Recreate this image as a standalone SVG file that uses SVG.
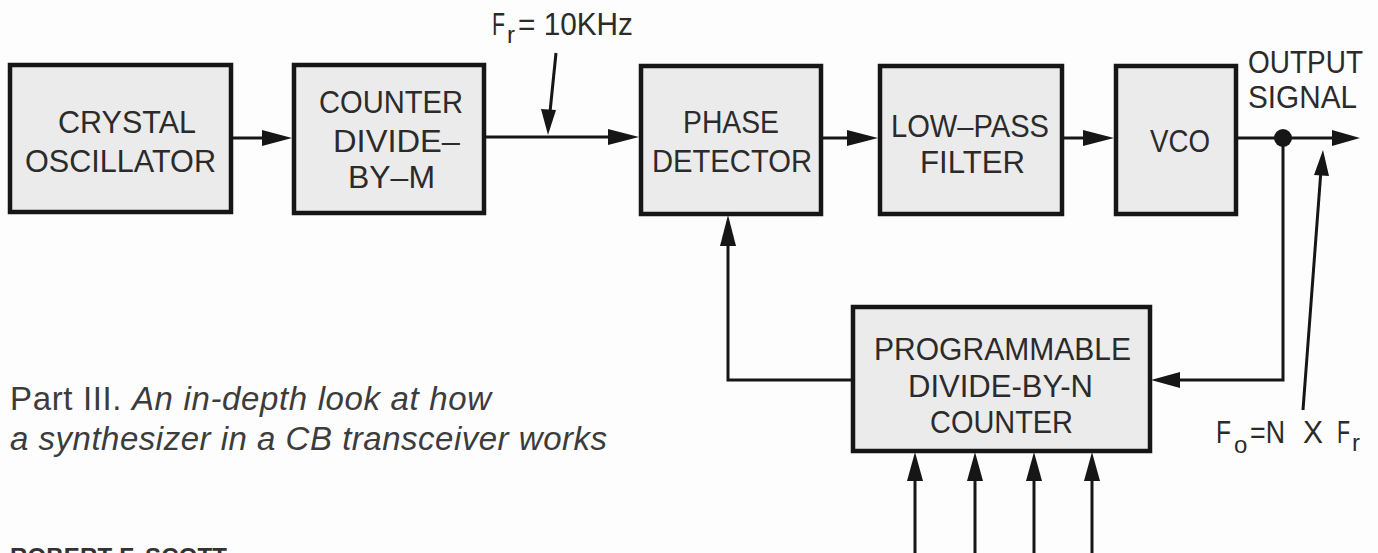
<svg xmlns="http://www.w3.org/2000/svg" width="1378" height="553" viewBox="0 0 1378 553">
<style>
.box{fill:#ebebeb;stroke:#161616;stroke-width:4.5}
.lbl{font-family:"Liberation Sans",Arial,sans-serif;font-size:32px;fill:#2b2b2b}
.sb{font-size:24px}
.cap{font-family:"Liberation Sans",Arial,sans-serif;font-size:33px;fill:#3c3c3c}
.wire{fill:none;stroke:#161616;stroke-width:3}
.head{fill:#161616}
</style>
<rect width="1378" height="553" fill="#fdfdfd"/>

<g id="crystal">
<rect class="box" x="10" y="65" width="221" height="147"/>
<text class="lbl" x="58" y="133" textLength="138" lengthAdjust="spacingAndGlyphs">CRYSTAL</text>
<text class="lbl" x="25" y="172" textLength="191" lengthAdjust="spacingAndGlyphs">OSCILLATOR</text>
</g>
<g id="counterM">
<rect class="box" x="294" y="65" width="190" height="148"/>
<text class="lbl" x="319" y="113" textLength="144" lengthAdjust="spacingAndGlyphs">COUNTER</text>
<text class="lbl" x="333" y="152" textLength="127" lengthAdjust="spacingAndGlyphs">DIVIDE–</text>
<text class="lbl" x="348" y="188" textLength="87" lengthAdjust="spacingAndGlyphs">BY–M</text>
</g>
<g id="phase">
<rect class="box" x="641" y="66" width="180" height="148"/>
<text class="lbl" x="683" y="133" textLength="96" lengthAdjust="spacingAndGlyphs">PHASE</text>
<text class="lbl" x="652" y="172" textLength="160" lengthAdjust="spacingAndGlyphs">DETECTOR</text>
</g>
<g id="lowpass">
<rect class="box" x="880" y="66" width="182" height="148"/>
<text class="lbl" x="891" y="137" textLength="158" lengthAdjust="spacingAndGlyphs">LOW–PASS</text>
<text class="lbl" x="920" y="173" textLength="105" lengthAdjust="spacingAndGlyphs">FILTER</text>
</g>
<g id="vco">
<rect class="box" x="1116" y="66" width="120" height="148"/>
<text class="lbl" x="1150" y="152" textLength="60" lengthAdjust="spacingAndGlyphs">VCO</text>
</g>
<g id="programmable">
<rect class="box" x="853" y="307" width="297" height="144"/>
<text class="lbl" x="874" y="360" textLength="257" lengthAdjust="spacingAndGlyphs">PROGRAMMABLE</text>
<text class="lbl" x="908" y="397" textLength="185" lengthAdjust="spacingAndGlyphs">DIVIDE-BY-N</text>
<text class="lbl" x="930" y="433" textLength="143" lengthAdjust="spacingAndGlyphs">COUNTER</text>
</g>

<g id="connectors">
<line class="wire" x1="231" y1="138" x2="265" y2="138"/>
<polygon class="head" points="292,138 262,130 262,146"/>
<line class="wire" x1="484" y1="137" x2="611" y2="137"/>
<polygon class="head" points="639,137 608,129 608,145"/>
<line class="wire" x1="556" y1="53" x2="550" y2="112"/>
<polygon class="head" points="548,135 541,109 556,110"/>
<line class="wire" x1="821" y1="138" x2="850" y2="138"/>
<polygon class="head" points="878,138 847,130 847,146"/>
<line class="wire" x1="1062" y1="138" x2="1086" y2="138"/>
<polygon class="head" points="1114,138 1083,130 1083,146"/>
<line class="wire" x1="1236" y1="138" x2="1336" y2="138"/>
<polygon class="head" points="1360,138 1332,130 1332,146"/>
<circle class="head" cx="1283" cy="138" r="9"/>
<polyline class="wire" points="1283,138 1283,380 1176,380"/>
<polygon class="head" points="1151,380 1180,372 1180,388"/>
<polyline class="wire" points="853,380 728,380 728,242"/>
<polygon class="head" points="728,215 720,246 736,246"/>
<line class="wire" x1="1303" y1="410" x2="1321" y2="170"/>
<polygon class="head" points="1323,150 1314,175 1329,176"/>
<line class="wire" x1="915" y1="553" x2="915" y2="478"/>
<polygon class="head" points="915,452 907,481 923,481"/>
<line class="wire" x1="975" y1="553" x2="975" y2="478"/>
<polygon class="head" points="975,452 967,481 983,481"/>
<line class="wire" x1="1034" y1="553" x2="1034" y2="478"/>
<polygon class="head" points="1034,452 1026,481 1042,481"/>
<line class="wire" x1="1092" y1="553" x2="1092" y2="478"/>
<polygon class="head" points="1092,452 1084,481 1100,481"/>
</g>

<g id="labels">
<text class="lbl" y="35"><tspan x="492" textLength="13" lengthAdjust="spacingAndGlyphs">F</tspan><tspan class="sb" x="507" y="43">r</tspan><tspan x="518" y="35" textLength="115" lengthAdjust="spacingAndGlyphs">= 10KHz</tspan></text>
<text class="lbl" x="1248" y="73" textLength="115" lengthAdjust="spacingAndGlyphs">OUTPUT</text>
<text class="lbl" x="1248" y="108" textLength="109" lengthAdjust="spacingAndGlyphs">SIGNAL</text>
<text class="lbl" y="443"><tspan x="1216" textLength="15" lengthAdjust="spacingAndGlyphs">F</tspan><tspan class="sb" x="1234" y="453">o</tspan><tspan x="1250" y="443" textLength="35" lengthAdjust="spacingAndGlyphs">=N</tspan><tspan x="1303" textLength="20" lengthAdjust="spacingAndGlyphs">X</tspan><tspan x="1337" textLength="13" lengthAdjust="spacingAndGlyphs">F</tspan><tspan class="sb" x="1352" y="451">r</tspan></text>
</g>

<g id="caption">
<text class="cap" x="10" y="410" textLength="481" lengthAdjust="spacing">Part III. <tspan font-style="italic">An in-depth look at how</tspan></text>
<text class="cap" x="10" y="450" font-style="italic" textLength="597" lengthAdjust="spacing">a synthesizer in a CB transceiver works</text>
<text x="10" y="565" font-family="Liberation Sans, Arial, sans-serif" font-size="24" font-weight="bold" fill="#333" textLength="217" lengthAdjust="spacing">ROBERT F. SCOTT</text>
</g>
</svg>
